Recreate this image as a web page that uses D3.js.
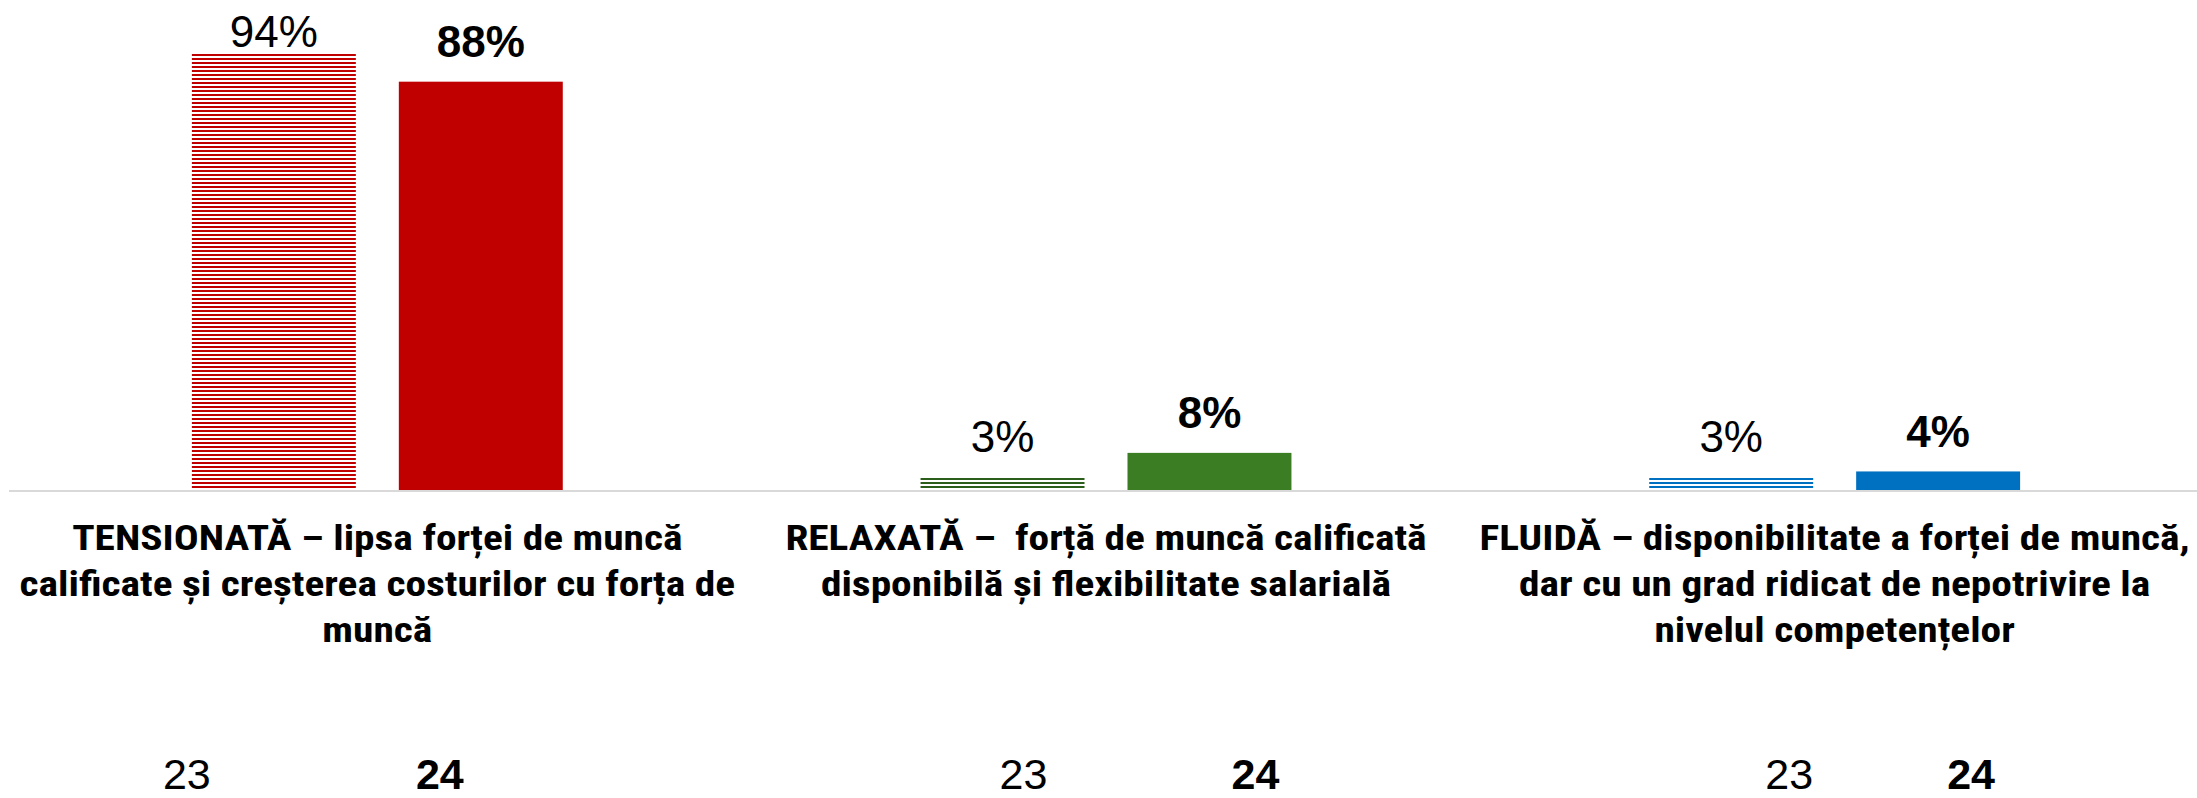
<!DOCTYPE html>
<html>
<head>
<meta charset="utf-8">
<script src="https://cdnjs.cloudflare.com/ajax/libs/d3/7.8.5/d3.min.js"></script>
<style>
  html, body { margin: 0; padding: 0; background: #fff; }
  svg { display: block; }
  .cat { font-family: "Liberation Sans Narrow", "Roboto Condensed", "DejaVu Sans Condensed", sans-serif; font-weight: bold; white-space: pre; }
  .val, .yr { font-family: "Liberation Sans", Arial, sans-serif; }
</style>
</head>
<body>
<div id="chart"></div>
<script>
// data
var categories = ["TENSIONATA", "RELAXATA", "FLUIDA"];
var categoryLines = [
  ["TENSIONATĂ – lipsa forței de muncă", "calificate și creșterea costurilor cu forța de", "muncă"],
  ["RELAXATĂ –  forță de muncă calificată", "disponibilă și flexibilitate salarială"],
  ["FLUIDĂ – disponibilitate a forței de muncă,", "dar cu un grad ridicat de nepotrivire la", "nivelul competențelor"]
];
var years = ["23", "24"];
var values23 = [94, 3, 3];
var values24 = [88, 8, 4];

// layout
var width = 2197, height = 798;
var baseY = 490;
var solidColors = ["#C00000", "#3A7D22", "#0070C0"];
var hatchColors = ["#C00000", "#2B5E1B", "#0070C0"];
// the year captions were placed by hand in the original, so they sit off the bar centres
var yearNudge = [[-87, -41], [21, 46], [58, 33]];
// the label font in the original is a wide-ish narrow face, stretch the narrow one a bit
var catStretch = 1.15;

var rows = [];
categories.forEach(function(c, i){
  rows.push({cat: c, i: i, year: "23", value: values23[i]});
  rows.push({cat: c, i: i, year: "24", value: values24[i]});
});

var svg = d3.select("#chart").append("svg")
    .attr("width", width)
    .attr("height", height);

svg.append("rect").attr("width", width).attr("height", height).attr("fill", "#fff");

var x0 = d3.scaleBand().domain(categories).range([13, 2199]).paddingInner(0.491).paddingOuter(0.2455);
var x1 = d3.scaleBand().domain(years).range([0, x0.bandwidth()]).paddingInner(0.2077);
var y = d3.scaleLinear().domain([0, 100]).range([baseY, baseY - 464]);

// horizontal stripe patterns for the 2023 bars
var defs = svg.append("defs");
hatchColors.forEach(function(col, i){
  var p = defs.append("pattern")
      .attr("id", "hatch" + i)
      .attr("patternUnits", "userSpaceOnUse")
      .attr("x", 0).attr("y", baseY)
      .attr("width", 8).attr("height", 4);
  p.append("rect").attr("x", 0).attr("y", 0).attr("width", 8).attr("height", 4).attr("fill", "#fff");
  p.append("rect").attr("x", 0).attr("y", 0).attr("width", 8).attr("height", 2).attr("fill", col);
});

svg.selectAll("rect.bar")
  .data(rows)
  .enter().append("rect")
    .attr("class", "bar")
    .attr("x", function(d){ return x0(d.cat) + x1(d.year); })
    .attr("y", function(d){ return y(d.value); })
    .attr("width", x1.bandwidth())
    .attr("height", function(d){ return baseY - y(d.value); })
    .attr("fill", function(d){ return d.year == "23" ? "url(#hatch" + d.i + ")" : solidColors[d.i]; });

// baseline
svg.append("line")
    .attr("x1", 9).attr("x2", width)
    .attr("y1", baseY + 1).attr("y2", baseY + 1)
    .attr("stroke", "#D9D9D9")
    .attr("stroke-width", 2);

// value labels
svg.selectAll("text.val")
  .data(rows)
  .enter().append("text")
    .attr("class", "val")
    .attr("x", function(d){ return x0(d.cat) + x1(d.year) + x1.bandwidth() / 2; })
    .attr("y", function(d){ return Math.max(y(d.value) - 24.5, 47); })
    .attr("text-anchor", "middle")
    .attr("font-size", 44)
    .attr("font-weight", function(d){ return d.year == "24" ? "bold" : "normal"; })
    .attr("fill", "#000")
    .text(function(d){ return d.value + "%"; });

// category labels
var cat = svg.selectAll("text.cat")
  .data(categories)
  .enter().append("text")
    .attr("class", "cat")
    .attr("text-anchor", "middle")
    .attr("font-size", 36)
    .attr("fill", "#000")
    .attr("transform", function(d){ return "translate(" + (x0(d) + x0.bandwidth() / 2) + ",0) scale(" + catStretch + ",1)"; });

cat.selectAll("tspan")
  .data(function(d, i){ return categoryLines[i]; })
  .enter().append("tspan")
    .attr("x", 0)
    .attr("y", function(d, j){ return 550 + j * 46; })
    .text(function(d){ return d; });

// year captions
svg.selectAll("text.yr")
  .data(rows)
  .enter().append("text")
    .attr("class", "yr")
    .attr("x", function(d){ return x0(d.cat) + x1(d.year) + x1.bandwidth() / 2 + yearNudge[d.i][years.indexOf(d.year)]; })
    .attr("y", 789)
    .attr("text-anchor", "middle")
    .attr("font-size", 43)
    .attr("font-weight", function(d){ return d.year == "24" ? "bold" : "normal"; })
    .attr("fill", "#000")
    .text(function(d){ return d.year; });
</script>
</body>
</html>
